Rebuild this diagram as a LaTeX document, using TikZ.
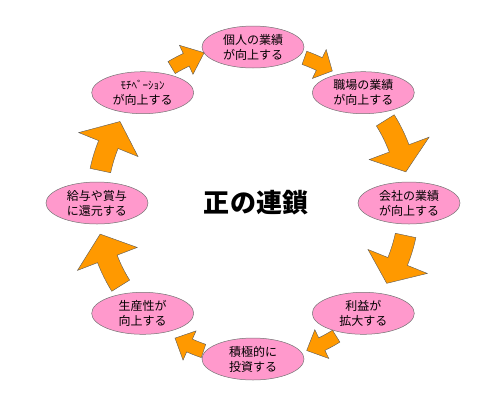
\documentclass[tikz,border=0pt]{standalone}
\usepackage{fontspec}
\setmainfont{Noto Sans CJK JP}
\usetikzlibrary{shapes.geometric}

\definecolor{stagepink}{RGB}{255,153,204}
\definecolor{floworange}{RGB}{255,153,0}

% curved block arrow: tail angle, base angle, tip angle, radius, shaft half, head half
\newcommand{\bendarrow}[6]{%
  \filldraw[flow] (#1:#4+#5) arc[start angle=#1, end angle=#2, radius=#4+#5]
    -- (#2:#4+#6) -- (#3:#4) -- (#2:#4-#6) -- (#2:#4-#5)
    arc[start angle=#2, end angle=#1, radius=#4-#5] -- cycle;}

\begin{document}
\begin{tikzpicture}[x=1pt, y=1pt,
    stage/.style={ellipse, draw=black!55, line width=0.5pt, fill=stagepink,
                  minimum width=102pt, minimum height=42pt, inner sep=0pt,
                  align=center, font=\fontsize{12}{15}\selectfont},
    flow/.style={fill=floworange, draw=black!65, line width=0.4pt, line join=miter}
]
    \useasboundingbox (-253,-197) rectangle (247,203);

    % Stages
    \node[stage] (kojin)   at (90:156)   {個人の業績\\が向上する};
    \node[stage] (shokuba) at (45:156)   {職場の業績\\が向上する};
    \node[stage] (kaisha)  at (0:156)    {会社の業績\\が向上する};
    \node[stage] (rieki)   at (-45:156)  {利益が\\拡大する};
    \node[stage] (toushi)  at (-90:156)  {積極的に\\投資する};
    \node[stage] (seisan)  at (-135:156) {生産性が\\向上する};
    \node[stage] (kyuyo)   at (180:156)  {給与や賞与\\に還元する};
    \node[stage] (moti)    at (135:156)  {{\fontsize{11}{15}\selectfont ﾓﾁﾍﾞｰｼｮﾝ}\\が向上する};

    % Title
    \node[font=\fontsize{26}{30}\selectfont\bfseries] (title) at (3,0) {正の連鎖};

    % Arrows
    \bendarrow{70.5}{64.5}{59}{154}{7}{16}
    \bendarrow{32}{20.5}{11.5}{156}{10.5}{32}
    \bendarrow{-12}{-22}{-31}{156}{10.5}{32}
    \bendarrow{-58}{-64}{-70}{157}{7}{16}
    \bendarrow{-108.5}{-114}{-120}{156}{7}{16}
    \bendarrow{212}{201}{191.5}{156}{10.5}{32}
    \bendarrow{168}{158}{148.5}{156}{10.5}{32}
    \bendarrow{121}{115}{108}{158}{7}{16}

\end{tikzpicture}
\end{document}
